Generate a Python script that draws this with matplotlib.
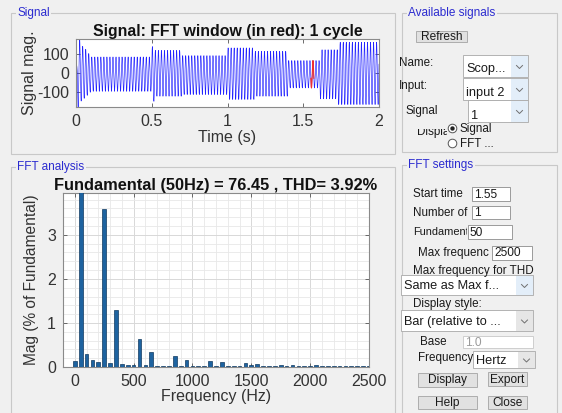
import numpy as np
import matplotlib
matplotlib.use("Agg")
import matplotlib.pyplot as plt
from matplotlib.patches import Rectangle, Circle
from matplotlib.ticker import MultipleLocator
from matplotlib.transforms import Bbox, TransformedBbox

plt.rcParams['font.family'] = ['Liberation Sans', 'DejaVu Sans']
plt.rcParams['axes.unicode_minus'] = False

# ---------------- data ----------------
# Signal envelope (upper / lower) breakpoints
env_t  = [0.000, 0.010, 0.012, 0.030, 0.032, 0.060, 0.100, 0.500, 0.501, 0.520, 0.521,
          0.700, 0.701, 1.000, 1.001, 1.180, 1.181, 1.400, 1.401, 1.610, 1.611, 1.730, 1.731, 2.000]
env_hi = [40, 40, 180, 180, 150, 130, 85, 85, 140, 140, 120,
          120, 92, 92, 133, 133, 115, 115, 66, 66, 123, 123, 163, 163]
env_lo = [-40, -40, -180, -180, -150, -130, -97, -97, -150, -150, -123,
          -123, -114, -114, -140, -140, -123, -123, -79, -79, -137, -137, -167, -167]
fund_hz = 50
fft_window = [1.55, 1.57]

# FFT harmonics (0..2500 Hz in 50 Hz steps), % of fundamental
harm_freq = list(range(0, 2550, 50))
harm_mag = [0.13, 100, 0.30, 0.17, 0.12, 3.58, 0.08, 1.29, 0.06, 0.05,
            0.05, 0.63, 0.04, 0.33, 0.03, 0.03, 0.03, 0.26, 0.03, 0.17,
            0.03, 0.03, 0.03, 0.14, 0.02, 0.11, 0.02, 0.02, 0.02, 0.09,
            0.04, 0.07, 0.02, 0.02, 0.02, 0.05, 0.02, 0.05, 0.02, 0.02,
            0.02, 0.04, 0.02, 0.03, 0.02, 0.02, 0.02, 0.03, 0.02, 0.02, 0.02]

sig_xticks = [0, 0.5, 1, 1.5, 2]
sig_xticklabels = ['0', '0.5', '1', '1.5', '2']
sig_yticks = [-100, 0, 100]
fft_xticks = [0, 500, 1000, 1500, 2000, 2500]
fft_yticks = [0, 1, 2, 3]

W, H = 562, 413
fig = plt.figure(figsize=(W / 100, H / 100), dpi=100)
fig.patch.set_facecolor('#f0f0f0')

# background overlay axes in pixel coordinates
bg = fig.add_axes([0, 0, 1, 1], zorder=0)
bg.set_xlim(0, W)
bg.set_ylim(H, 0)
bg.axis('off')

BORDER = '#c8c8c8'
LBL_FS = 8.4
BTN_FS = 8.6
BOX_FS = 8.6
DD_FS = 9.2
TXT = '#1a1a1a'


def panel(x0, y0, x1, y1, title):
    bg.add_patch(Rectangle((x0, y0), x1 - x0, y1 - y0, fill=False, ec=BORDER, lw=0.8))
    bg.text(x0 + 6, y0, title, color='#2b2bd0', fontsize=8.5, va='center', ha='left',
            bbox=dict(fc='#f0f0f0', ec='none', pad=1.0))


def ax_rect(x0, y0, x1, y1):
    return [x0 / W, 1 - y1 / H, (x1 - x0) / W, (y1 - y0) / H]


def label(x, y, s, clip_x=None, clip_top=None, fs=LBL_FS):
    t = bg.text(x, y, s, fontsize=fs, va='center', ha='left', color=TXT)
    if clip_x is not None or clip_top is not None:
        cx = clip_x if clip_x is not None else W
        ct = clip_top if clip_top is not None else 0
        t.set_clip_on(True)
        t.set_clip_box(TransformedBbox(Bbox([[0, ct], [cx, H]]), bg.transData))
    return t


def editbox(x0, y0, x1, y1, s, tc=TXT, ec='#8c8c8c'):
    bg.add_patch(Rectangle((x0, y0), x1 - x0, y1 - y0, fc='white', ec=ec, lw=0.6))
    bg.text(x0 + 2, (y0 + y1) / 2 + 0.5, s, fontsize=BOX_FS, va='center', ha='left', color=tc)


def chevron(cx, cy, color='#707070'):
    bg.plot([cx - 3, cx, cx + 3], [cy - 1.5, cy + 1.5, cy - 1.5], color=color, lw=0.7)


def dropdown(x0, y0, x1, y1, s, chev_bg='#e3eef9', ty=None):
    bg.add_patch(Rectangle((x0, y0), x1 - x0, y1 - y0, fc='white', ec='#a8a8a8', lw=0.6))
    bg.add_patch(Rectangle((x1 - 17, y0 + 0.5), 16.5, y1 - y0 - 1, fc=chev_bg, ec='none'))
    chevron(x1 - 8.5, (y0 + y1) / 2 + 1)
    bg.text(x0 + 3, ty if ty is not None else (y0 + y1) / 2 + 1, s, fontsize=DD_FS,
            va='center', ha='left', color=TXT)


def button(x0, y0, x1, y1, s):
    bg.add_patch(Rectangle((x0, y0), x1 - x0, y1 - y0, fc='#e1e1e1', ec='#adadad', lw=0.7))
    bg.text((x0 + x1) / 2, (y0 + y1) / 2 + 0.5, s, fontsize=BTN_FS, va='center', ha='center',
            color=TXT)


# panels
panel(11, 13, 395, 154, 'Signal')
panel(11, 167, 395, 420, 'FFT analysis')
panel(402, 13, 557, 152, 'Available signals')
panel(402, 165, 557, 420, 'FFT settings')

# ---------- Available signals widgets ----------
button(416, 31, 467, 42, 'Refresh')
label(399, 63, 'Name:')
dropdown(463, 55, 528, 77, 'Scop...', ty=69)
label(399, 86, 'Input:')
dropdown(463, 78, 528, 100, 'input 2', ty=93)
label(406, 111, 'Signal')
dropdown(468, 100, 528, 122, '1', ty=116)
label(417, 132, 'Displa', clip_x=447, clip_top=129)
bg.add_patch(Circle((452.5, 128.5), 4.3, fc='white', ec='#555555', lw=0.7))
bg.add_patch(Circle((452.5, 128.5), 2.2, fc='#222222', ec='none'))
label(460, 129, 'Signal')
bg.add_patch(Circle((452.5, 143.5), 4.3, fc='white', ec='#555555', lw=0.7))
label(460, 144, 'FFT ...')

# ---------- FFT settings widgets ----------
label(413, 194, 'Start time')
editbox(472, 187, 510, 201, '1.55')
label(413, 213, 'Number of', clip_x=471)
editbox(472, 206, 510, 219, '1')
label(413, 232, 'Fundament', clip_x=467, fs=7.9)
editbox(468, 225, 512, 239, '50')
label(418, 253, 'Max frequenc', clip_x=491)
editbox(492, 246, 532, 260, '2500')
label(413, 271, 'Max frequency for THD')
dropdown(401, 275, 533, 295, 'Same as Max f...', chev_bg='#e3eef9')
label(413, 304, 'Display style:')
dropdown(401, 310, 533, 331, 'Bar (relative to ...', chev_bg='#e6e6e6')
label(420, 342, 'Base')
editbox(463, 336, 533, 348, '1.0', tc='#9a9a9a', ec='#c8c8c8')
label(418, 358, 'Frequency')
dropdown(473, 351, 535, 368, 'Hertz', chev_bg='#e6e6e6')
button(418, 373, 477, 387, 'Display')
button(488, 372, 527, 386, 'Export')
button(418, 396, 477, 409, 'Help')
button(488, 396, 527, 409, 'Close')

# ---------------- Signal axes ----------------
ax1 = fig.add_axes(ax_rect(76, 39, 379, 107), zorder=2)
t_arr = np.linspace(0, 2, 40001)
hi = np.interp(t_arr, env_t, env_hi)
lo = np.interp(t_arr, env_t, env_lo)
sig = (hi + lo) / 2 + (hi - lo) / 2 * np.sin(2 * np.pi * fund_hz * t_arr + 0.3)
ax1.plot(t_arr, sig, color='#2323ff', lw=0.45)
m = (t_arr >= fft_window[0]) & (t_arr <= fft_window[1])
ax1.plot(t_arr[m], sig[m], color='#f03030', lw=0.8)
ax1.set_xlim(0, 2)
ax1.set_ylim(-180, 180)
ax1.set_xticks(sig_xticks)
ax1.set_xticklabels(sig_xticklabels)
ax1.set_yticks(sig_yticks)
ax1.set_title('Signal: FFT window (in red): 1 cycle', fontsize=11.4, fontweight='bold',
              color='#111111', pad=2)
ax1.set_xlabel('Time (s)', fontsize=11.5, color='#333333', labelpad=1)
ax1.set_ylabel('Signal mag.', fontsize=11.5, color='#333333', labelpad=0)

# ---------------- FFT axes ----------------
ax2 = fig.add_axes(ax_rect(63, 193, 369, 367), zorder=2)
ax2.bar(harm_freq, harm_mag, width=32, color='#1e63a0', edgecolor='#103a60', lw=0.5, zorder=3)
ax2.set_xlim(-100, 2500)
ax2.set_ylim(0, 3.95)
ax2.set_xticks(fft_xticks)
ax2.set_yticks(fft_yticks)
ax2.xaxis.set_minor_locator(MultipleLocator(100))
ax2.yaxis.set_minor_locator(MultipleLocator(0.2))
ax2.grid(True, which='major', color='#d8d8d8', lw=0.7, zorder=0)
ax2.grid(True, which='minor', color='#e8e8e8', lw=0.6, zorder=0)
ax2.set_axisbelow(True)
ax2.set_title('Fundamental (50Hz) = 76.45 , THD= 3.92%', fontsize=11.8, fontweight='bold',
              color='#111111', pad=2)
ax2.set_xlabel('Frequency (Hz)', fontsize=11.5, color='#333333', labelpad=0)
ax2.set_ylabel('Mag (% of Fundamental)', fontsize=11.2, color='#333333', labelpad=6)

for ax in (ax1, ax2):
    ax.set_facecolor('white')
    for s in ax.spines.values():
        s.set_color('#8a8a8a')
        s.set_linewidth(0.8)
    ax.tick_params(which='both', direction='in', top=True, right=True, labelsize=11.5,
                   labelcolor='#333333', color='#555555', length=3, width=0.6, pad=5)
    ax.tick_params(which='minor', length=0)

fig.savefig('out.png', dpi=100, facecolor=fig.get_facecolor())
